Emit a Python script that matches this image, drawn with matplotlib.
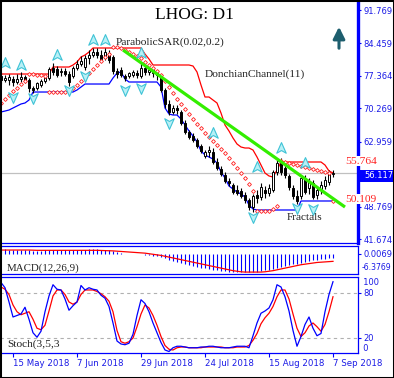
import matplotlib
matplotlib.use("Agg")
import matplotlib.pyplot as plt
from matplotlib.path import Path
from matplotlib.patches import Rectangle
import numpy as np

# ---------------- data ----------------
tick_idx = [3, 19, 35, 51, 67, 83]
tick_labels = ["15 May 2018", "7 Jun 2018", "29 Jun 2018", "24 Jul 2018", "15 Aug 2018", "7 Sep 2018"]

opens = [77.33, 76.46, 76.46, 76.67, 76.02, 76.67, 77.11, 76.46, 74.71, 74.71,
         75.36, 76.24, 76.89, 79.08, 78.86, 78.17, 78.43, 77.77, 77.33, 79.08,
         79.96, 79.30, 81.27, 81.92, 82.58, 81.92, 81.27, 82.36, 81.49, 78.43,
         78.64, 77.33, 77.33, 77.55, 78.00, 77.33, 79.08, 78.21, 78.64, 78.00,
         77.33, 74.27, 71.21, 69.46, 70.33, 69.46, 67.05, 65.08, 64.20, 63.33,
         62.02, 59.83, 60.71, 60.71, 58.52, 56.99, 55.67, 54.36, 53.49, 52.39,
         52.17, 51.30, 50.21, 48.67, 51.30, 50.86, 52.39, 51.74, 52.39, 56.33,
         58.30, 57.21, 55.46, 52.83, 51.08, 51.08, 55.02, 52.83, 53.92, 51.30,
         52.39, 53.27, 54.14, 55.89]
highs = [78.21, 77.55, 77.77, 77.33, 77.77, 78.21, 77.55, 76.89, 75.14, 76.02,
         76.67, 77.33, 79.30, 80.17, 79.52, 79.08, 79.08, 78.43, 79.52, 80.80,
         81.68, 81.92, 83.02, 83.46, 83.46, 83.02, 83.46, 83.02, 81.92, 79.08,
         79.30, 77.77, 78.21, 78.64, 78.64, 80.17, 79.74, 79.30, 79.08, 78.64,
         77.77, 74.71, 72.08, 71.00, 71.00, 69.89, 67.71, 65.52, 64.86, 63.77,
         62.46, 61.14, 62.02, 61.58, 59.39, 57.64, 56.33, 55.02, 53.92, 53.49,
         52.83, 51.96, 50.64, 51.52, 52.39, 53.92, 53.27, 53.71, 56.77, 58.96,
         59.39, 58.08, 55.89, 53.49, 52.39, 55.67, 55.67, 55.02, 54.58, 53.05,
         54.36, 55.46, 56.77, 56.77]
lows = [75.58, 76.02, 75.36, 75.14, 75.58, 76.02, 75.80, 73.83, 73.61, 74.27,
        74.92, 75.80, 76.46, 77.55, 77.11, 77.33, 77.33, 75.14, 76.89, 78.64,
        79.52, 78.64, 79.96, 81.49, 81.27, 80.61, 80.83, 80.17, 77.77, 76.89,
        77.11, 76.24, 76.89, 77.11, 76.89, 76.89, 77.55, 77.55, 77.11, 76.46,
        73.83, 70.33, 68.80, 69.02, 69.02, 66.61, 64.64, 63.55, 62.89, 61.58,
        60.49, 59.39, 59.61, 58.08, 56.77, 55.46, 53.92, 53.27, 51.52, 51.30,
        50.64, 49.55, 48.02, 47.58, 49.55, 50.21, 50.64, 51.08, 51.96, 55.67,
        55.67, 55.02, 52.39, 50.43, 49.33, 50.43, 51.52, 51.52, 50.43, 50.43,
        51.52, 52.61, 53.49, 55.24]
closes = [76.46, 76.89, 77.11, 76.02, 76.67, 77.11, 76.46, 74.71, 74.27, 75.80,
          76.24, 76.89, 78.86, 78.21, 77.55, 78.43, 77.77, 76.02, 79.08, 79.96,
          80.61, 81.27, 81.92, 82.58, 81.92, 81.05, 82.58, 80.83, 78.43, 77.77,
          77.55, 76.89, 78.00, 78.21, 77.55, 79.08, 78.21, 78.64, 78.00, 77.55,
          74.27, 71.21, 69.46, 70.33, 69.89, 67.05, 65.08, 63.99, 63.33, 62.02,
          60.93, 60.71, 61.14, 58.52, 57.21, 55.89, 54.36, 53.92, 51.96, 51.74,
          51.08, 50.21, 48.67, 51.08, 50.64, 53.05, 51.74, 52.83, 56.33, 58.30,
          56.33, 55.67, 53.05, 51.08, 49.99, 55.02, 51.96, 54.14, 50.86, 52.39,
          53.49, 54.58, 56.33, 56.117]

donchian_upper = [77.77]*13 + [79.30]*5 + [79.74, 80.39, 81.49, 81.92, 82.58] + [83.46]*13 + \
    [82.14, 81.05, 79.74] + [79.74]*9 + [79.52, 78.21, 75.36, 72.74, 72.74, 72.08, 71.43, 69.24,
    66.61, 65.30, 63.77, 62.46, 61.80, 61.58, 61.58, 61.14, 59.61, 57.86, 56.11, 55.46, 55.24,
    56.77, 58.52] + [58.52]*10 + [57.86, 56.55, 56.11]
donchian_lower = [69.46, 69.67, 69.89, 70.33, 70.77, 71.21, 71.43, 72.08, 73.83, 73.83,
                  73.83, 73.83, 73.83, 73.83, 73.83, 73.83, 73.83, 73.83, 73.83, 74.27,
                  74.92, 75.58, 75.58, 75.58, 75.58, 75.58, 75.58, 75.58, 76.89, 77.99,
                  78.21, 76.67, 76.02, 76.02, 76.02, 76.02, 76.02, 76.02, 76.02, 76.02,
                  74.92, 70.33, 69.02, 68.80, 68.80, 67.93, 66.61, 65.30, 64.20, 62.89,
                  60.93, 60.05, 59.61, 59.17, 58.30, 56.33, 55.02, 53.27, 52.61, 51.96,
                  51.52, 50.86, 49.11, 48.24, 48.02, 48.02, 48.02, 48.02, 48.02, 48.02,
                  48.02, 48.02, 48.02, 48.02, 48.02, 49.99, 49.99, 49.99, 49.99, 49.99,
                  49.99, 49.99, 49.99, 49.99]
sar = [71.43, 72.30, 73.17, 74.05, 74.71, 75.58, 76.24, 77.77, 77.77, 77.55,
       77.55, 77.33, 73.83, 73.83, 73.83, 73.83, 73.83, 74.05, 74.71, 75.36,
       76.24, 77.11, 77.99, 78.86, 79.74, 80.61, 81.49, 82.14, 83.68, 83.68,
       83.46, 83.02, 82.58, 82.14, 81.71, 81.27, 80.39, 79.74, 79.08, 78.43,
       77.55, 76.24, 74.92, 73.61, 72.30, 71.21, 70.11, 69.02, 67.93, 66.83,
       65.96, 64.86, 63.99, 63.11, 62.24, 61.36, 60.49, 59.39, 58.30, 57.21,
       56.11, 55.02, 53.71, 52.17, 47.80, 47.80, 47.80, 47.80, 48.24, 48.89,
       58.74, 58.52, 58.30, 58.08, 57.86, 57.64, 57.42, 57.21, 56.99, 56.77,
       56.55, 56.33, 56.11, 49.99]

up_fractal_idx = [1, 5, 14, 23, 26, 35, 53, 64, 70, 76]
up_fractal_val = [80.17, 79.74, 81.92, 85.20, 85.20, 82.36, 64.86, 57.42, 61.58, 58.30]
down_fractal_idx = [3, 8, 17, 21, 31, 35, 42, 63, 74, 78]
down_fractal_val = [72.74, 72.52, 74.27, 77.33, 74.27, 74.71, 67.05, 46.48, 48.46, 48.24]

trend_x = [30.5, 86.0]
trend_y = [83.02, 48.67]

macd_hist = [1.6, 1.6, 1.5, 1.5, 1.4, 1.4, 1.4, 1.3, 1.2, 1.2,
             1.2, 1.3, 1.4, 1.5, 1.5, 1.5, 1.4, 1.3, 1.3, 1.4,
             1.5, 1.5, 1.6, 1.6, 1.6, 1.5, 1.4, 1.3, 1.0, 0.6,
             0.3, 0.1, 0.05, 0.05, 0.05, 0.05, -0.2, -0.4, -0.6, -0.8,
             -1.1, -1.5, -2.0, -2.4, -2.8, -3.2, -3.6, -4.0, -4.3, -4.6,
             -4.9, -5.1, -5.4, -5.6, -5.8, -6.0, -6.1, -6.2, -6.3, -6.3,
             -6.4, -6.4, -6.4, -6.3, -6.2, -6.0, -5.8, -5.5, -5.2, -4.9,
             -4.6, -4.3, -4.0, -3.7, -3.4, -3.1, -2.8, -2.5, -2.3, -2.1,
             -1.9, -1.7, -1.5, -1.4]
macd_signal = [1.4, 1.4, 1.4, 1.4, 1.4, 1.4, 1.4, 1.4, 1.35, 1.3,
               1.3, 1.3, 1.3, 1.3, 1.3, 1.3, 1.3, 1.3, 1.3, 1.3,
               1.3, 1.3, 1.3, 1.3, 1.3, 1.25, 1.2, 1.15, 1.1, 1.0,
               0.9, 0.8, 0.7, 0.6, 0.5, 0.4, 0.3, 0.1, -0.1, -0.3,
               -0.5, -0.8, -1.1, -1.4, -1.7, -2.0, -2.3, -2.6, -2.9, -3.2,
               -3.5, -3.8, -4.1, -4.4, -4.7, -5.0, -5.3, -5.6, -5.9, -6.1,
               -6.3, -6.4, -6.4, -6.4, -6.4, -6.4, -6.3, -6.1, -5.9, -5.6,
               -5.3, -5.0, -4.7, -4.4, -4.1, -3.8, -3.6, -3.4, -3.2, -3.0,
               -2.9, -2.8, -2.7, -2.6]

stoch_k = [94, 87, 68, 48, 50, 52, 61, 45, 27, 21, 29, 55, 76, 91, 85, 84, 72, 57, 63, 68,
           90, 84, 87, 85, 84, 77, 73, 62, 40, 16, 12, 11, 13, 25, 50, 71, 66, 55, 40, 27,
           14, 4, 2, 7, 9, 9, 8, 7, 7, 7, 8, 8, 9, 9, 8, 7, 7, 7, 8, 9,
           9, 9, 7, 23, 40, 53, 56, 60, 71, 91, 88, 75, 56, 30, 9, 22, 38, 48, 33, 23,
           26, 55, 78, 95]
stoch_d = [88, 85, 78, 64, 55, 51, 53, 55, 45, 33, 31, 37, 56, 76, 84, 84, 78, 68, 65, 68,
           78, 84, 84, 84, 82, 79, 75, 69, 55, 30, 15, 13, 15, 20, 35, 52, 64, 60, 50, 37,
           22, 10, 5, 4, 7, 8, 8, 7, 7, 7, 7, 8, 8, 8, 8, 8, 7, 7, 7, 8,
           8, 8, 10, 17, 26, 39, 47, 53, 62, 75, 84, 84, 72, 52, 33, 22, 27, 36, 40, 35,
           29, 38, 55, 75]

last_price = 56.117
dc_upper_label = "55.764"
dc_lower_label = "50.109"
main_ticks = [91.769, 84.459, 77.364, 70.269, 62.959, 48.769, 41.674]

# ---------------- layout ----------------
W, H = 394, 378
fig = plt.figure(figsize=(W / 100, H / 100), dpi=100)
fig.patch.set_facecolor("white")

def fx(p):
    return p / W

def fy(p):
    return 1 - p / H

BLUE = "#0000ff"
TXTBLUE = "#1a1ae6"
SERIF = ["Liberation Serif", "DejaVu Serif"]

ax = fig.add_axes([fx(0), fy(243), fx(358), fy(0) - fy(243)])
axm = fig.add_axes([fx(0), fy(274), fx(358), fy(246) - fy(274)])
axs = fig.add_axes([fx(0), fy(353), fx(358), fy(277) - fy(353)])

n = len(closes)
xs = np.arange(n)
XLIM = (-0.25, 89.25)
for a in (ax, axm, axs):
    a.set_xlim(*XLIM)
    a.set_facecolor("white")
    a.spines["left"].set_visible(False)
    for s in ("top", "bottom", "right"):
        a.spines[s].set_color(BLUE)
        a.spines[s].set_linewidth(0.9)
    a.yaxis.tick_right()
    a.tick_params(axis="y", colors=BLUE, labelcolor=TXTBLUE, length=2.5, width=0.8,
                  labelsize=6, pad=1.5)
    a.tick_params(axis="x", colors=BLUE, labelcolor=TXTBLUE, length=3, width=0.8,
                  labelsize=6.2, pad=1.5)
    a.set_xticks([])

ax.spines["top"].set_visible(False)
ax.spines["right"].set_linewidth(2.4)

# ---------------- main panel ----------------
ax.set_ylim(40.80, 93.96)
ax.set_yticks(main_ticks)
ax.set_yticklabels([f"{v:.3f}" for v in main_ticks])

ax.axhline(last_price, color="#c0c0c0", lw=0.9, zorder=1)

ax.plot(xs, donchian_upper, color="#ff0000", lw=0.9, zorder=2)
ax.plot(xs, donchian_lower, color="#0000ff", lw=0.9, zorder=2)

# candles
ax.vlines(xs, lows, highs, color="black", lw=0.8, zorder=3)
o = np.array(opens)
c = np.array(closes)
bull = c >= o
body_h = np.maximum(np.abs(c - o), 0.12)
body_b = np.minimum(o, c)
ax.bar(xs[bull], body_h[bull], bottom=body_b[bull], width=0.62, color="white",
       edgecolor="black", lw=0.7, zorder=4)
ax.bar(xs[~bull], body_h[~bull], bottom=body_b[~bull], width=0.62, color="black",
       edgecolor="black", lw=0.7, zorder=4)

ax.plot(xs, sar, ls="none", marker="D", ms=2.0, mfc="white", mec="#ff2020", mew=0.6, zorder=5)

ax.plot(trend_x, trend_y, color="#33ee00", lw=2.3, zorder=6, solid_capstyle="butt")

up_marker = Path([(0, 1), (0.8, -0.8), (0, -0.35), (-0.8, -0.8), (0, 1)],
                 [Path.MOVETO, Path.LINETO, Path.LINETO, Path.LINETO, Path.CLOSEPOLY])
down_marker = Path([(0, -1), (0.8, 0.8), (0, 0.35), (-0.8, 0.8), (0, -1)],
                   [Path.MOVETO, Path.LINETO, Path.LINETO, Path.LINETO, Path.CLOSEPOLY])
ax.plot(up_fractal_idx, up_fractal_val, ls="none", marker=up_marker, ms=8.5,
        mfc="#b8f0f6", mec="#3fc3d6", mew=0.8, zorder=7)
ax.plot(down_fractal_idx, down_fractal_val, ls="none", marker=down_marker, ms=8.5,
        mfc="#b8f0f6", mec="#3fc3d6", mew=0.8, zorder=7)

# labels in main panel
fig.text(fx(194), fy(15), "LHOG: D1", family=SERIF, fontsize=12.5, ha="center", va="center", color="black")
fig.text(fx(116), fy(42), "ParabolicSAR(0.02,0.2)", family=SERIF, fontsize=8.2, ha="left", va="center", color="#222222")
fig.text(fx(205), fy(74), "DonchianChannel(11)", family=SERIF, fontsize=8.2, ha="left", va="center", color="#222222")
fig.text(fx(287), fy(218), "Fractals", family=SERIF, fontsize=8.2, ha="left", va="center", color="#222222")

fig.text(fx(345), fy(161), dc_upper_label, family=SERIF, fontsize=8.2, ha="left", va="center",
         color="#ff2020", bbox=dict(boxstyle="square,pad=0.05", fc="white", ec="none"), zorder=10)
fig.text(fx(345), fy(199), dc_lower_label, family=SERIF, fontsize=8.2, ha="left", va="center",
         color="#ff2020", bbox=dict(boxstyle="square,pad=0.05", fc="white", ec="none"), zorder=10)

# current price box
fig.patches.append(Rectangle((fx(359), fy(182)), fx(394) - fx(359), fy(170) - fy(182),
                             transform=fig.transFigure, fc="#0000ff", ec="none", zorder=9))
fig.text(fx(364), fy(176), f"{last_price:.3f}", fontsize=6, color="white", ha="left", va="center", zorder=11)

# arrow
ax.annotate("", xy=(fx(339), fy(24)), xytext=(fx(339), fy(51)), xycoords="figure fraction",
            textcoords="figure fraction",
            arrowprops=dict(arrowstyle="-|>,head_length=0.7,head_width=0.35", color="#1d5e6e", lw=2.2))

# ---------------- MACD ----------------
axm.set_ylim(-7.08, 2.83)
axm.vlines(xs, 0, macd_hist, color="#0000ff", lw=0.8)
axm.plot(xs, macd_signal, color="#ff0000", lw=0.9)
axm.set_yticks([0.0069])
axm.set_yticklabels(["0.0069"])
fig.text(fx(362), fy(268), "-6.3769", fontsize=5.6, color=TXTBLUE, ha="left", va="center")
fig.text(fx(7), fy(268), "MACD(12,26,9)", family=SERIF, fontsize=7.8, ha="left", va="center", color="#222222")

# ---------------- Stochastic ----------------
axs.set_ylim(0, 101.3)
axs.axhline(80, color="#b0b0b0", lw=0.8, ls=(0, (3, 3)))
axs.axhline(20, color="#b0b0b0", lw=0.8, ls=(0, (3, 3)))
axs.plot(xs, stoch_d, color="#ff0000", lw=0.9)
axs.plot(xs, stoch_k, color="#0000ff", lw=0.9)
axs.set_yticks([80, 20])
axs.set_yticklabels(["80", "20"])
axs.text(1.0, 100, "  100", transform=axs.get_yaxis_transform(), fontsize=6, color=TXTBLUE,
         ha="left", va="top", clip_on=False)
axs.text(1.0, 0, "  0", transform=axs.get_yaxis_transform(), fontsize=6, color=TXTBLUE,
         ha="left", va="bottom", clip_on=False)
axs.set_xticks(tick_idx)
axs.set_xticklabels(tick_labels, ha="left")
fig.text(fx(7), fy(344), "Stoch(3,5,3", family=SERIF, fontsize=8.2, ha="left", va="center", color="#222222")

# figure border
fig.patches.append(Rectangle((0, 0), 1, 1, transform=fig.transFigure, fill=False,
                             ec="black", lw=2.2, zorder=20))

fig.savefig("out.png", dpi=100)
